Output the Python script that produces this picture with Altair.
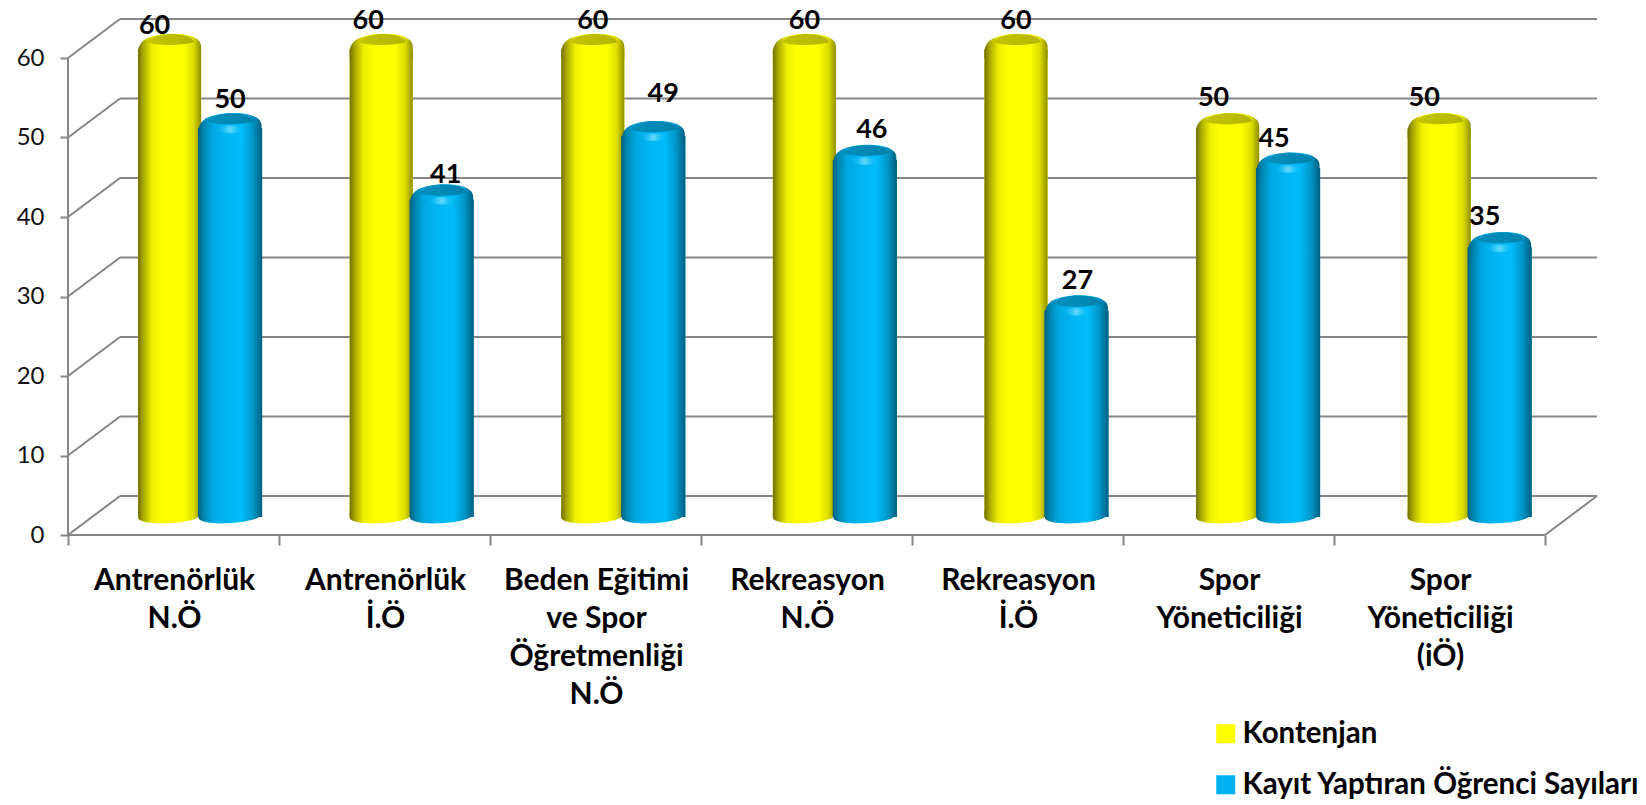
import json
import altair as alt
import pandas as pd

categories = [
    ["Antrenörlük", "N.Ö"],
    ["Antrenörlük", "İ.Ö"],
    ["Beden Eğitimi", "ve Spor", "Öğretmenliği", "N.Ö"],
    ["Rekreasyon", "N.Ö"],
    ["Rekreasyon", "İ.Ö"],
    ["Spor", "Yöneticiliği"],
    ["Spor", "Yöneticiliği", "(iÖ)"],
]
series_names = ["Kontenjan", "Kayıt Yaptıran Öğrenci Sayıları"]
kontenjan = [60, 60, 60, 60, 60, 50, 50]
kayit = [50, 41, 49, 46, 27, 45, 35]
y_ticks = [0, 10, 20, 30, 40, 50, 60]

# --- layout constants (pixels) ---
CAT_PX = 211.0
BAR_STEP = 211.6 / 211.0
UNIT_PX = 7.95
DEPTH_X_PX = 52
DEPTH_Y_PX = 39
PLOT_W = 7 * CAT_PX + DEPTH_X_PX
PLOT_H = 60 * UNIT_PX + DEPTH_Y_PX
DX = DEPTH_X_PX / CAT_PX
DY = DEPTH_Y_PX / UNIT_PX
BASE = 18 / UNIT_PX
TOP0 = 10.2 / UNIT_PX
K = 7.93 / UNIT_PX
FONT = "Lato"
GREY = "#868686"

x_scale = alt.Scale(domain=[0, 7 + DX], range=[0, PLOT_W], nice=False, zero=False)
y_scale = alt.Scale(domain=[0, 60 + DY], nice=False, zero=False)

# label nudges (pixels), style only
lab_dx = {0: [-15, -13, 0, 0, 0, -14, -15], 1: [0, 4, 10, 7, 1, -14, -15]}
lab_dy = {0: [23, 28, 28, 28, 28, 30, 30], 1: [28, 24.5, 42, 30, 30, 29, 30]}
bar_span = {0: (0.332, 0.631), 1: (0.616, 0.92)}


def series_df(idx, vals):
    a, b = bar_span[idx]
    rows = []
    for i, v in enumerate(vals):
        top = TOP0 + K * v
        p = i * BAR_STEP
        rows.append({
            "series": series_names[idx], "value": v, "x0": p + a, "x1": p + b, "xc": p + (a + b) / 2,
            "base": BASE, "top": top,
            "lx": p + (a + b) / 2 + lab_dx[idx][i] / CAT_PX,
            "ly": top + lab_dy[idx][i] / UNIT_PX,
        })
    return pd.DataFrame(rows)


dfs = [series_df(0, kontenjan), series_df(1, kayit)]

# frame lines of the pseudo-3D walls
frame = []
for t in y_ticks:
    frame.append({"x": DX, "x2": 7 + DX, "y": t + DY, "y2": t + DY})
    frame.append({"x": 0, "x2": DX, "y": t, "y2": t + DY})
frame.append({"x": 0, "x2": 7, "y": 0, "y2": 0})
frame.append({"x": 0, "x2": 0, "y": 0, "y2": 60})
frame.append({"x": 7, "x2": 7 + DX, "y": 0, "y2": DY})
frame_df = pd.DataFrame(frame)

labels_expr = json.dumps(categories + [[""]], ensure_ascii=False) + "[datum.value]"

x_axis = alt.Axis(
    values=list(range(8)), labelExpr=labels_expr, title=None, grid=False, domain=False,
    ticks=True, tickSize=10, tickColor=GREY, tickWidth=2, labelOffset=106, labelPadding=20,
    labelFont=FONT, labelFontWeight="bold", labelFontSize=30, labelColor="#000000",
    labelLineHeight=38.2, labelAngle=0, labelAlign="center", labelBaseline="top",
    labelOverlap=False, labelBound=False, labelFlush=False, labelLimit=400,
)
y_axis = alt.Axis(
    values=y_ticks, title=None, grid=False, domain=False, ticks=True, tickSize=8, tickColor=GREY,
    tickWidth=2, labelPadding=16, labelFont=FONT, labelFontSize=24, labelColor="#111111",
    labelOverlap=False, labelBound=False, labelFlush=False,
)

X = lambda f: alt.X(f, scale=x_scale, axis=x_axis)
Y = lambda f: alt.Y(f, scale=y_scale, axis=y_axis)

frame_layer = alt.Chart(frame_df).mark_rule(color=GREY, strokeWidth=2).encode(
    x=X("x:Q"), x2="x2:Q", y=Y("y:Q"), y2="y2:Q",
)


def grad(stops):
    return alt.LinearGradient(
        gradient="linear", x1=0, x2=1, y1=0, y2=0,
        stops=[alt.GradientStop(offset=o, color=c) for o, c in stops],
    )


Y_BODY = [(0, "#6f6f00"), (0.08, "#a8a800"), (0.22, "#eeee00"), (0.38, "#ffff00"), (0.72, "#ffff00"), (0.88, "#dcdc00"), (1, "#8f8f00")]
B_BODY = [(0, "#00607f"), (0.08, "#0084ad"), (0.22, "#00a8e2"), (0.45, "#00b6f2"), (0.68, "#00bcfa"), (0.86, "#0096c8"), (1, "#005f7f")]
Y_CAP = [(0, "#c4c400"), (1, "#b4b400")]
B_CAP = [(0, "#0090bf"), (1, "#0082ad")]

BOTTOM = "M-1,0.05 C-0.9,0.18 -0.5,0.22 -0.1,0.2 C0.4,0.18 0.9,0.1 1,-0.08 L1,-0.2 L-1,-0.2 Z"
DOME = "M-1,0.1 C-1,-0.28 -0.65,-0.44 -0.1,-0.48 C0.5,-0.52 1,-0.4 1,-0.08 L1,0.3 L-1,0.3 Z"
CAP = "M-0.72,-0.22 C-0.6,-0.42 -0.2,-0.48 0.05,-0.48 C0.45,-0.48 0.75,-0.38 0.78,-0.22 C0.5,-0.12 -0.4,-0.07 -0.72,-0.22 Z"
GLOW = "M-0.45,0.02 C-0.3,-0.12 0.3,-0.12 0.45,0.02 C0.3,0.2 -0.3,0.2 -0.45,0.02 Z"
SIZE = 63 ** 2


def sym(df, field, shape, fill, size=SIZE):
    return alt.Chart(df).mark_point(
        shape=shape, size=size, filled=True, fill=fill, opacity=1, strokeWidth=0
    ).encode(x=X("xc:Q"), y=Y(f"{field}:Q"))


layers = [frame_layer]

# flat bars that carry the legend
flat = pd.concat(dfs)
layers.append(
    alt.Chart(flat).mark_bar().encode(
        x=X("x0:Q"), x2="x1:Q", y=Y("base:Q"), y2="top:Q",
        color=alt.Color(
            "series:N",
            scale=alt.Scale(domain=series_names, range=["#FFFF00", "#00B0F0"]),
            sort=series_names,
            legend=alt.Legend(
                title=None, orient="none", legendX=1143, legendY=700, symbolType="square",
                symbolSize=361, symbolStrokeWidth=0, labelFont=FONT, labelFontWeight="bold",
                labelFontSize=29.5, labelColor="#000000", labelLimit=700, labelOffset=2,
                rowPadding=20, padding=0, symbolOffset=0,
            ),
        ),
    )
)

for df, body, cap, glow in [(dfs[0], Y_BODY, Y_CAP, None), (dfs[1], B_BODY, B_CAP, "#55d4ff")]:
    layers.append(sym(df, "base", BOTTOM, grad(body)))
    layers.append(
        alt.Chart(df).mark_bar(fill=grad(body), strokeWidth=0).encode(
            x=X("x0:Q"), x2="x1:Q", y=Y("base:Q"), y2="top:Q",
        )
    )
    layers.append(sym(df, "top", DOME, grad(body)))
    layers.append(sym(df, "top", CAP, grad(cap)))
    if glow:
        layers.append(sym(df, "top", GLOW, alt.RadialGradient(
            gradient="radial", stops=[
                alt.GradientStop(offset=0, color="#6fdcff"),
                alt.GradientStop(offset=1, color="rgba(0,184,245,0)"),
            ])))

for df in dfs:
    layers.append(
        alt.Chart(df).mark_text(
            font=FONT, fontWeight="bold", fontSize=27, color="#000000", baseline="middle", align="center"
        ).encode(x=X("lx:Q"), y=Y("ly:Q"), text="value:Q")
    )

chart = alt.layer(*layers).properties(
    width=PLOT_W,
    height=PLOT_H,
    autosize=alt.AutoSizeParams(type="none"),
    padding={"left": 60, "top": 11, "right": 1630 - 60 - PLOT_W, "bottom": 792 - 11 - PLOT_H},
    background="#ffffff",
).configure_view(stroke=None)

chart.save("out.html", embed_options={"renderer": "svg", "actions": False})
